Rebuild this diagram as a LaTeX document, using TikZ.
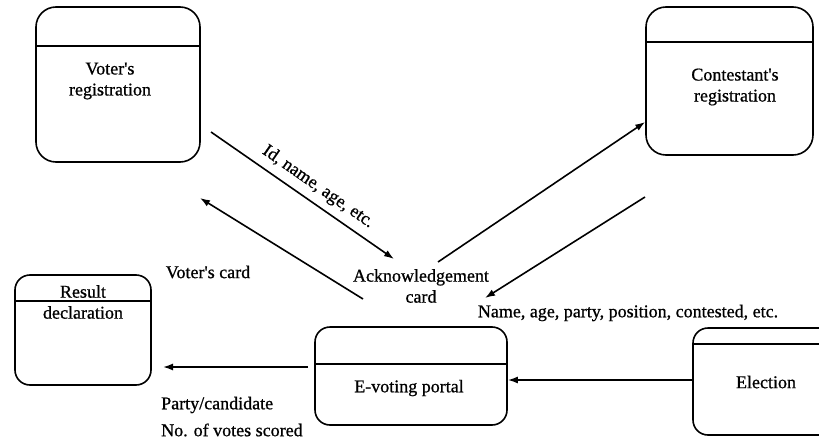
\documentclass[tikz,border=0pt]{standalone}
\usepackage{fontspec}
\setmainfont{Liberation Serif}[FakeBold=0.8]
\usetikzlibrary{arrows.meta}
\newcommand{\apos}{\textquotesingle}
\begin{document}
\begin{tikzpicture}[x=1pt,y=-1pt,
  store/.style={draw,line width=1.6pt,rounded corners=#1,inner sep=0pt},
  txt/.style={font=\fontsize{18}{21}\selectfont,align=center,inner sep=0pt},
  flow/.style={line width=1.6pt,-{Latex[length=10pt,width=7pt]}}]
\useasboundingbox (0,0) rectangle (819,444);
% stores
\node[store=20pt,minimum width=164pt,minimum height=155pt] (vr) at (118,84.5) {};
\draw[line width=1.6pt] ([yshift=-40pt]vr.north west) -- ([yshift=-40pt]vr.north east);
\node[txt] (vrt) at (110,81) {Voter\apos s\\registration};

\node[store=20pt,minimum width=167pt,minimum height=148pt] (cr) at (729.5,81) {};
\draw[line width=1.6pt] ([yshift=-36pt]cr.north west) -- ([yshift=-36pt]cr.north east);
\node[txt] (crt) at (735,87) {Contestant\apos s\\registration};

\node[store=15pt,minimum width=136pt,minimum height=110pt] (rd) at (83,330) {};
\draw[line width=1.6pt] ([yshift=-27pt]rd.north west) -- ([yshift=-27pt]rd.north east);
\node[txt] (rdt) at (83,302) {Result\\declaration};

\node[store=15pt,minimum width=192pt,minimum height=98pt] (ev) at (411,376) {};
\draw[line width=1.6pt] ([yshift=-38pt]ev.north west) -- ([yshift=-38pt]ev.north east);
\node[txt] (evt) at (409,388) {E-voting portal};

\node[store=15pt,minimum width=150pt,minimum height=107pt] (el) at (768,381.5) {};
\draw[line width=1.6pt] ([yshift=-17pt]el.north west) -- ([yshift=-17pt]el.north east);
\node[txt] (elt) at (766,382) {Election};

% labels
\node[txt,rotate=-34.8] (l1) at (318,187) {Id, name, age, etc.};
\node[txt] (l2) at (208,272) {Voter\apos s card};
\node[txt] (l3) at (421,286) {Acknowledgement\\card};
\node[txt] (l4) at (628,313) {Name, age, party, position, contested, etc.};
\node[txt,anchor=west] (l5) at (161,405) {Party/candidate};
\node[txt,anchor=west] (l6) at (161,430) {No. of votes scored};

% connector ends
\coordinate (a1s) at (211,132);
\coordinate (a1e) at (394,259);
\coordinate (a2s) at (363,299);
\coordinate (a2e) at (200,198);
\coordinate (a3s) at (438,262);
\coordinate (a4s) at (645,197);
\coordinate (a4e) at (485,298);
\coordinate (a6s) at (308,367);
\coordinate (a6e) at (163,367);

\draw[flow] (a1s) -- (a1e);
\draw[flow] (a2s) -- (a2e);
\draw[flow] (a3s) -- (cr.west |- 0,122);
\draw[flow] (a4s) -- (a4e);
\draw[flow] (el.west |- 0,380) -- (ev.east |- 0,380);
\draw[flow] (a6s) -- (a6e);
\end{tikzpicture}
\end{document}
